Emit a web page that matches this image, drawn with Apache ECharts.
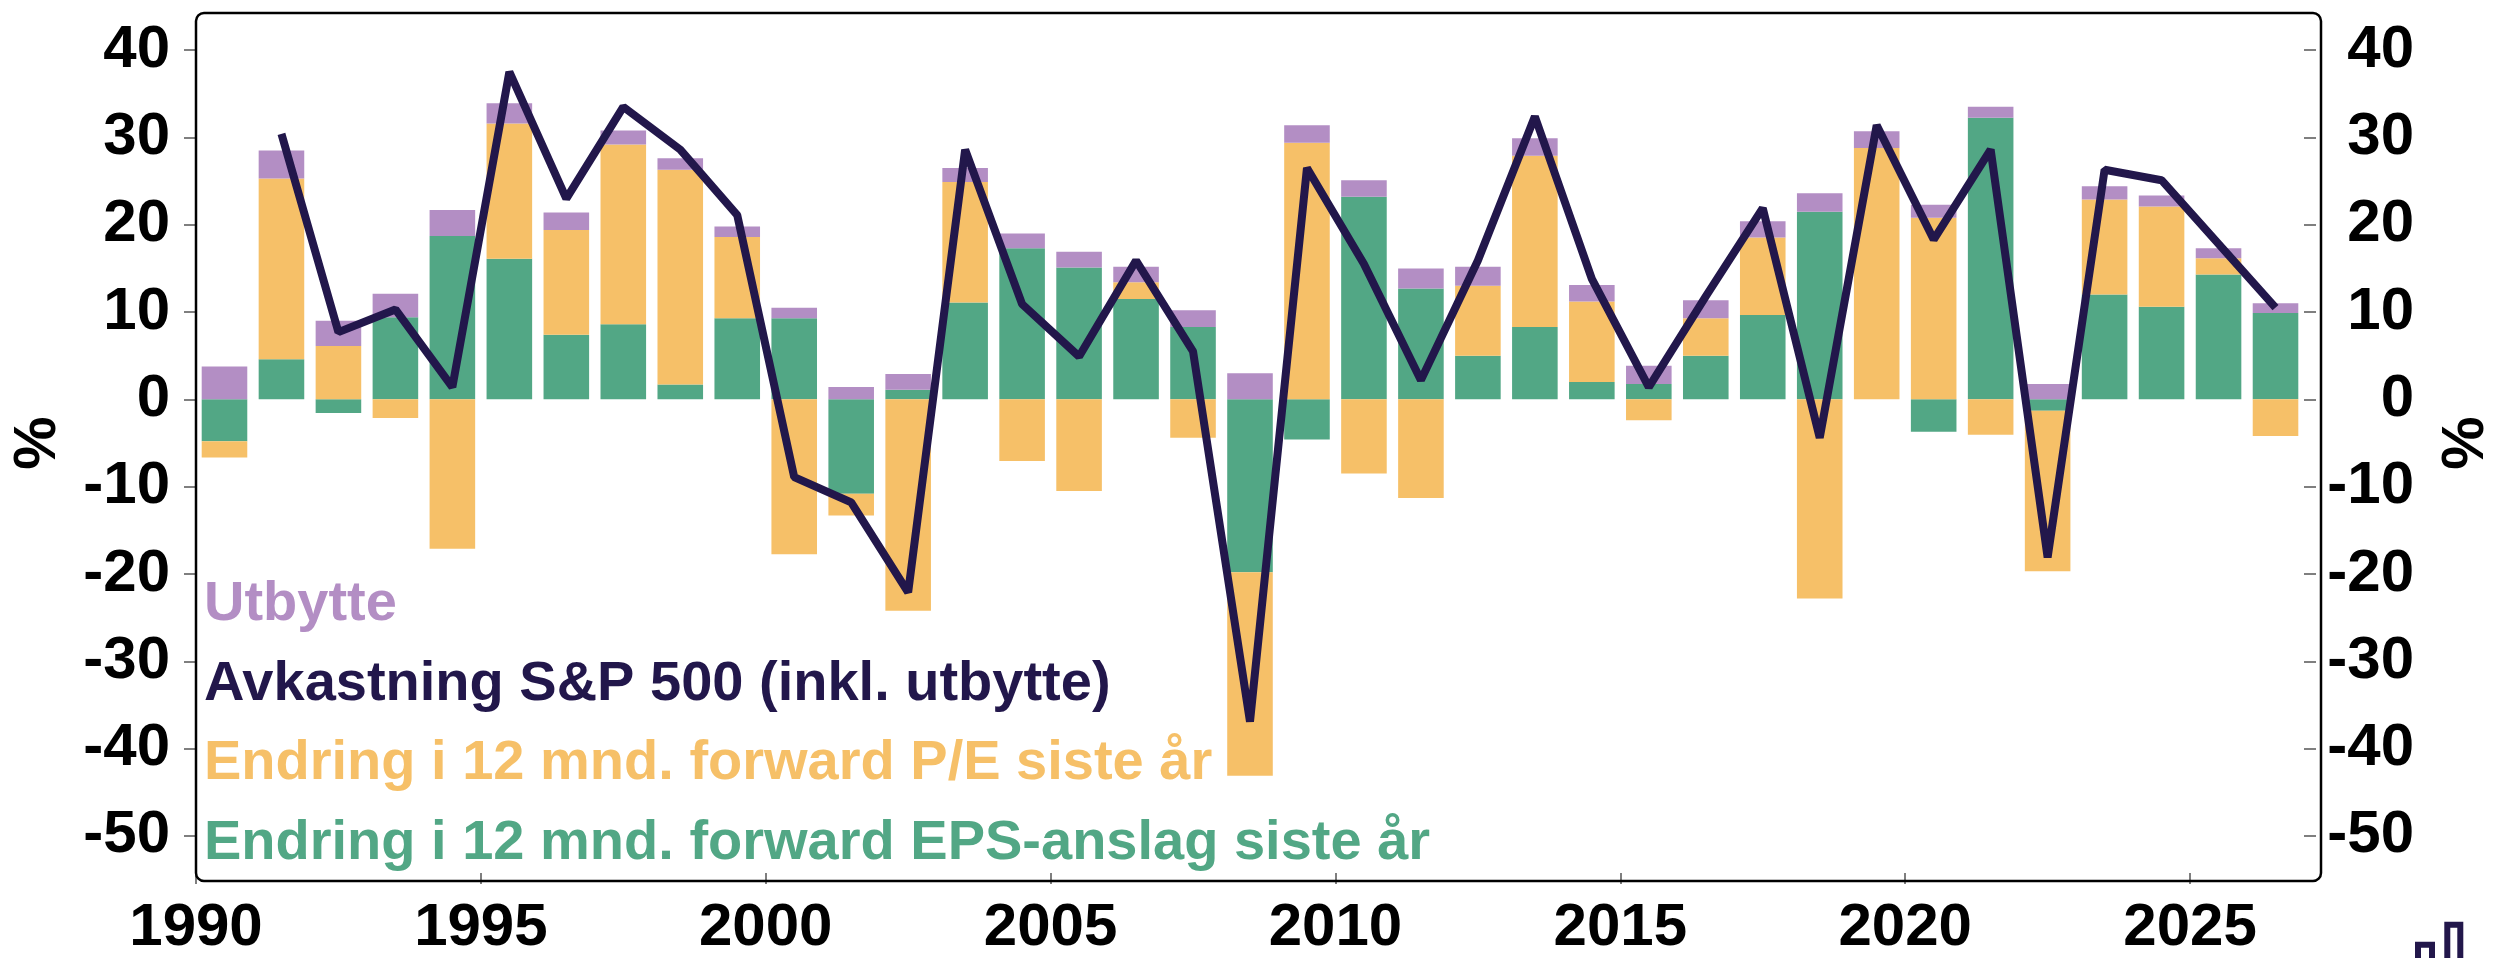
<!DOCTYPE html>
<html>
<head>
<meta charset="utf-8">
<title>S&P 500 avkastning</title>
<script src="https://cdn.jsdelivr.net/npm/echarts@6.0.0/dist/echarts.min.js"></script>
<style>
  html, body { margin: 0; padding: 0; background: #fff; }
  #chart { width: 2504px; height: 958px; }
</style>
</head>
<body>
<div id="chart"></div>
<script>
// data (lest av figuren)
var years = [1990,1991,1992,1993,1994,1995,1996,1997,1998,1999,2000,2001,2002,2003,2004,2005,2006,2007,2008,2009,
             2010,2011,2012,2013,2014,2015,2016,2017,2018,2019,2020,2021,2022,2023,2024,2025,2026];
// endring i 12 mnd. forward EPS-anslag
var epsChange = [-4.8,4.6,-1.55,9.4,18.7,16.1,7.4,8.6,1.7,9.3,9.3,-10.8,1.1,11.1,17.3,15.1,11.5,8.3,-19.8,-4.6,
                 23.2,12.7,5.0,8.3,2.0,1.75,5.0,9.65,21.5,0,-3.7,32.25,-1.3,12.0,10.6,14.3,9.9];
// endring i 12 mnd. forward P/E
var peChange = [-1.85,20.7,6.1,-2.15,-17.1,15.5,12.0,20.6,24.6,9.3,-17.75,-2.5,-24.2,13.8,-7.05,-10.5,1.9,-4.4,-23.3,29.4,
                -8.5,-11.3,8.0,19.6,9.2,-2.4,4.3,8.9,-22.8,28.8,20.8,-4.05,-18.4,10.9,11.5,1.85,-4.2];
// utbytte
var dividend = [3.75,3.2,2.9,2.7,3.0,2.3,2.0,1.6,1.3,1.2,1.2,1.4,1.8,1.6,1.7,1.8,1.8,1.9,3.0,2.0,
                1.9,2.3,2.2,2.0,1.9,2.1,2.05,1.85,2.1,1.9,1.5,1.25,1.75,1.5,1.25,1.15,1.1];
// avkastning S&P 500 inkl. utbytte
var totalReturn = [null,30.4,7.7,10.3,1.4,37.5,23.0,33.5,28.6,21.1,-8.9,-11.8,-22.1,28.6,10.9,4.9,15.9,5.5,-36.9,26.5,
                   15.5,2.2,15.9,32.4,13.8,1.4,11.8,21.9,-4.4,31.4,18.3,28.6,-18.1,26.3,25.1,17.8,10.5];
var yTicks = [-50,-40,-30,-20,-10,0,10,20,30,40];

var names = {
    div: 'Utbytte',
    ret: 'Avkastning S&P 500 (inkl. utbytte)',
    pe: 'Endring i 12 mnd. forward P/E siste år',
    eps: 'Endring i 12 mnd. forward EPS-anslag siste år'
};
var colors = { div: '#b38ec4', ret: '#22174b', pe: '#f6c068', eps: '#52a785' };
var font = "'Liberation Sans', Arial, sans-serif";

// plot-område
var grid = { left: 196, top: 13, right: 183, bottom: 77 };
var W = 2504, H = 958;

var myChart = echarts.init(document.getElementById('chart'));

var labelStyle = { color: '#000', fontSize: 60, fontWeight: 'bold', fontFamily: font };
var tickStyle = { color: '#7f7f7f', width: 2 };

function yAxis(pos) {
    return {
        type: 'value',
        position: pos,
        min: -54.25,
        max: 44.25,
        name: '%',
        nameLocation: 'middle',
        nameRotate: 90,
        nameGap: pos == 'left' ? 128 : 132,
        nameTextStyle: { color: '#000', fontSize: 60, fontWeight: 'bold', fontFamily: font },
        axisLine: { show: false },
        splitLine: { show: false },
        axisTick: { show: true, length: 12, lineStyle: tickStyle, customValues: yTicks },
        axisLabel: Object.assign({}, labelStyle, {
            customValues: yTicks,
            margin: pos == 'left' ? 26 : 110,
            align: 'right'
        })
    };
}

myChart.setOption({
    animation: false,
    backgroundColor: '#fff',
    grid: { left: grid.left, top: grid.top, right: grid.right, bottom: grid.bottom, containLabel: false },
    legend: {
        orient: 'vertical',
        left: 199,
        top: 565,
        padding: 0,
        icon: 'none',
        itemWidth: 0,
        itemHeight: 0,
        itemGap: 0,
        selectedMode: false,
        textStyle: { fontSize: 56, fontWeight: 'bold', fontFamily: font, lineHeight: 79.6 },
        data: [
            { name: names.div, textStyle: { color: colors.div } },
            { name: names.ret, textStyle: { color: colors.ret } },
            { name: names.pe, textStyle: { color: colors.pe } },
            { name: names.eps, textStyle: { color: colors.eps } }
        ]
    },
    xAxis: [
        {
            // kategorier for søyler og linje
            type: 'category',
            data: years,
            boundaryGap: true,
            show: false
        },
        {
            // årstall-akse
            type: 'value',
            position: 'bottom',
            min: 1990,
            max: 2027,
            interval: 5,
            axisLine: { show: false, onZero: false },
            splitLine: { show: false },
            axisTick: { show: true, length: 11, lineStyle: tickStyle },
            axisLabel: Object.assign({}, labelStyle, {
                margin: 25,
                formatter: function (v) { return String(v); }
            })
        }
    ],
    yAxis: [yAxis('left'), yAxis('right')],
    series: [
        {
            name: names.eps,
            type: 'bar',
            stack: 'sum',
            barWidth: '80%',
            itemStyle: { color: colors.eps },
            data: epsChange
        },
        {
            name: names.pe,
            type: 'bar',
            stack: 'sum',
            itemStyle: { color: colors.pe },
            data: peChange
        },
        {
            name: names.div,
            type: 'bar',
            stack: 'sum',
            itemStyle: { color: colors.div },
            data: dividend
        },
        {
            name: names.ret,
            type: 'line',
            symbol: 'none',
            z: 5,
            lineStyle: { color: colors.ret, width: 8 },
            itemStyle: { color: colors.ret },
            data: totalReturn
        }
    ],
    graphic: [
        {
            // ramme med runde hjørner
            type: 'rect',
            z: 10,
            silent: true,
            shape: { x: grid.left, y: grid.top, width: W - grid.left - grid.right, height: H - grid.top - grid.bottom, r: 8 },
            style: { fill: 'none', stroke: '#000', lineWidth: 2.5 }
        },
        // logo nede til høyre
        {
            type: 'rect',
            silent: true,
            shape: { x: 2418, y: 944.7, width: 14, height: 30 },
            style: { fill: 'none', stroke: colors.ret, lineWidth: 6 }
        },
        {
            type: 'rect',
            silent: true,
            shape: { x: 2447.3, y: 924.7, width: 13, height: 50 },
            style: { fill: 'none', stroke: colors.ret, lineWidth: 6 }
        }
    ]
});
</script>
</body>
</html>
